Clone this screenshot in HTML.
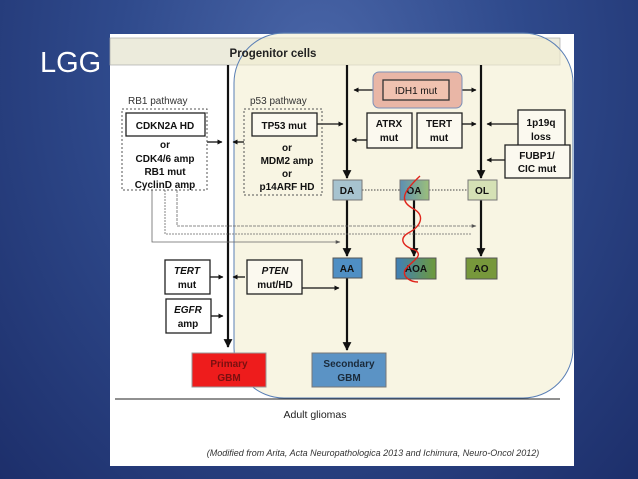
<!DOCTYPE html>
<html><head><meta charset="utf-8"><style>
html,body{margin:0;padding:0}
body{width:638px;height:479px;overflow:hidden;background:radial-gradient(ellipse at 50% 15%,#4a66a8 0%,#2f4a8c 45%,#1d2f6b 100%);font-family:"Liberation Sans",sans-serif}
svg{position:absolute;left:0;top:0}
</style></head><body>
<svg width="638" height="479" viewBox="0 0 638 479" font-family="Liberation Sans, sans-serif">
<defs>
<marker id="a" viewBox="0 0 10 10" refX="9" refY="5" markerWidth="4" markerHeight="4" orient="auto-start-reverse"><path d="M0,0L10,5L0,10z" fill="#111"/></marker>
<marker id="g" viewBox="0 0 10 10" refX="9" refY="5" markerWidth="6" markerHeight="6" orient="auto"><path d="M0,1L10,5L0,9z" fill="#555"/></marker>
<linearGradient id="oa" x1="0" x2="1"><stop offset="0" stop-color="#5d8fb3"/><stop offset="1" stop-color="#9bbf7a"/></linearGradient>
<linearGradient id="aoa" x1="0" x2="1"><stop offset="0" stop-color="#3f7fb8"/><stop offset="1" stop-color="#6e9a3a"/></linearGradient>
</defs>
<text x="40" y="72" font-size="29" fill="#fff">LGG</text>
<rect x="110" y="34" width="464" height="432" fill="#fff"/>
<rect x="110" y="38" width="450" height="27" fill="#ecebdc" stroke="#aaa" stroke-width="0.7"/>
<rect x="234" y="33" width="339" height="365" rx="50" fill="#f4efd0" fill-opacity="0.6" stroke="#5a7fb5" stroke-width="1"/>
<text x="273" y="57" font-size="11.5" font-weight="bold" text-anchor="middle" fill="#222">Progenitor cells</text>
<line x1="115" y1="399" x2="560" y2="399" stroke="#222" stroke-width="1"/>
<text x="315" y="418" font-size="10.5" text-anchor="middle" fill="#222">Adult gliomas</text>
<text x="373" y="456" font-size="9" font-style="italic" text-anchor="middle" fill="#333">(Modified from Arita, Acta Neuropathologica 2013 and Ichimura, Neuro-Oncol 2012)</text>
<g stroke="#111" stroke-width="2.2" fill="none">
<line x1="228" y1="65" x2="228" y2="347" marker-end="url(#a)"/>
<line x1="347" y1="65" x2="347" y2="178" marker-end="url(#a)"/>
<line x1="481" y1="65" x2="481" y2="178" marker-end="url(#a)"/>
<line x1="347" y1="200" x2="347" y2="256" marker-end="url(#a)"/>
<line x1="414" y1="200" x2="414" y2="256" marker-end="url(#a)"/>
<line x1="481" y1="200" x2="481" y2="256" marker-end="url(#a)"/>
<line x1="347" y1="278" x2="347" y2="350" marker-end="url(#a)"/>
</g>
<g stroke="#111" stroke-width="1.3" fill="none">
<line x1="373" y1="90" x2="354" y2="90" marker-end="url(#a)"/>
<line x1="462" y1="90" x2="476" y2="90" marker-end="url(#a)"/>
<line x1="317" y1="124" x2="343" y2="124" marker-end="url(#a)"/>
<line x1="367" y1="140" x2="352" y2="140" marker-end="url(#a)"/>
<line x1="462" y1="124" x2="476" y2="124" marker-end="url(#a)"/>
<line x1="518" y1="124" x2="487" y2="124" marker-end="url(#a)"/>
<line x1="505" y1="160" x2="487" y2="160" marker-end="url(#a)"/>
<line x1="207" y1="142" x2="222" y2="142" marker-end="url(#a)"/>
<line x1="244" y1="142" x2="233" y2="142" marker-end="url(#a)"/>
<line x1="210" y1="277" x2="223" y2="277" marker-end="url(#a)"/>
<line x1="245" y1="277" x2="233" y2="277" marker-end="url(#a)"/>
<line x1="211" y1="316" x2="223" y2="316" marker-end="url(#a)"/>
<line x1="302" y1="288" x2="339" y2="288" marker-end="url(#a)"/>
</g>
<g stroke="#666" stroke-width="0.8" fill="none">
<polyline points="152,190 152,242 340,242" marker-end="url(#g)"/>
<polyline points="165,190 165,234 472,234" stroke-dasharray="2,1"/>
<polyline points="177,190 177,226 476,226" marker-end="url(#g)" stroke-dasharray="3,1"/>
</g>
<g stroke="#444" stroke-width="1" stroke-dasharray="1.5,1.5">
<line x1="362" y1="190" x2="400" y2="190"/><line x1="429" y1="190" x2="468" y2="190"/>
</g>
<text x="128" y="104" font-size="10" fill="#333">RB1 pathway</text>
<text x="250" y="104" font-size="10" fill="#333">p53 pathway</text>
<rect x="122" y="109" width="85" height="81" fill="#fff" stroke="#555" stroke-dasharray="2,2"/>
<rect x="244" y="109" width="78" height="86" fill="none" stroke="#555" stroke-dasharray="2,2"/>
<g font-size="10" font-weight="bold" text-anchor="middle" fill="#111">
<rect x="126" y="113" width="79" height="23" fill="#fff" stroke="#222" stroke-width="1.3"/>
<text x="165" y="129">CDKN2A HD</text>
<text x="165" y="148">or</text><text x="165" y="162">CDK4/6 amp</text><text x="165" y="175">RB1 mut</text><text x="165" y="188">CyclinD amp</text>
<rect x="252" y="113" width="65" height="23" fill="#fbf9ef" stroke="#222" stroke-width="1.3"/>
<text x="284" y="129">TP53 mut</text>
<text x="287" y="151">or</text><text x="287" y="164">MDM2 amp</text><text x="287" y="177">or</text><text x="287" y="190">p14ARF HD</text>
<rect x="373" y="72" width="89" height="36" rx="6" fill="#e9b6a6" stroke="#7c90b8"/>
<rect x="383" y="80" width="66" height="20" fill="#f0c2b0" stroke="#333" stroke-width="1.3"/>
<text x="416" y="94" font-weight="normal">IDH1 mut</text>
<rect x="367" y="113" width="45" height="35" fill="#fbf9ef" stroke="#222" stroke-width="1.3"/>
<text x="389" y="127">ATRX</text><text x="389" y="141">mut</text>
<rect x="417" y="113" width="45" height="35" fill="#fbf9ef" stroke="#222" stroke-width="1.3"/>
<text x="439" y="127">TERT</text><text x="439" y="141">mut</text>
<rect x="518" y="110" width="47" height="40" fill="#fbf9ef" stroke="#222" stroke-width="1.3"/>
<text x="541" y="126">1p19q</text><text x="541" y="140">loss</text>
<rect x="505" y="145" width="65" height="33" fill="#fbf9ef" stroke="#222" stroke-width="1.3"/>
<text x="537" y="159">FUBP1/</text><text x="537" y="172">CIC mut</text>
<rect x="333" y="180" width="29" height="20" fill="#a7c3cf" stroke="#777"/><text x="347" y="194">DA</text>
<rect x="400" y="180" width="29" height="20" fill="url(#oa)" stroke="#777"/><text x="414" y="194">OA</text>
<rect x="468" y="180" width="29" height="20" fill="#d5e1b5" stroke="#777"/><text x="482" y="194">OL</text>
<rect x="333" y="258" width="29" height="20" fill="#4f8fc4" stroke="#555"/><text x="347" y="272">AA</text>
<rect x="396" y="258" width="40" height="21" fill="url(#aoa)" stroke="#555"/><text x="416" y="272">AOA</text>
<rect x="466" y="258" width="31" height="21" fill="#77983b" stroke="#555"/><text x="481" y="272">AO</text>
<rect x="165" y="260" width="45" height="34" fill="#fff" stroke="#222" stroke-width="1.3"/>
<text x="187" y="274" font-style="italic">TERT</text><text x="187" y="288">mut</text>
<rect x="166" y="299" width="45" height="34" fill="#fff" stroke="#222" stroke-width="1.3"/>
<text x="188" y="313" font-style="italic">EGFR</text><text x="188" y="327">amp</text>
<rect x="247" y="260" width="55" height="34" fill="#fbf9ef" stroke="#222" stroke-width="1.3"/>
<text x="275" y="274" font-style="italic">PTEN</text><text x="275" y="288">mut/HD</text>
<rect x="192" y="353" width="74" height="34" fill="#ee1c1c" stroke="#999"/>
<text x="229" y="367" fill="#7a1010">Primary</text><text x="229" y="381" fill="#7a1010">GBM</text>
<rect x="312" y="353" width="74" height="34" fill="#5b93c5" stroke="#777"/>
<text x="349" y="367" fill="#1a2a3a">Secondary</text><text x="349" y="381" fill="#1a2a3a">GBM</text>
</g>
<path d="M420,176 C405,190 398,200 412,208 C428,216 418,228 410,232 C398,238 402,246 415,250 C425,256 410,262 405,270 C402,278 412,282 418,282" stroke="#e0251c" stroke-width="1.4" fill="none"/>
</svg>
</body></html>
